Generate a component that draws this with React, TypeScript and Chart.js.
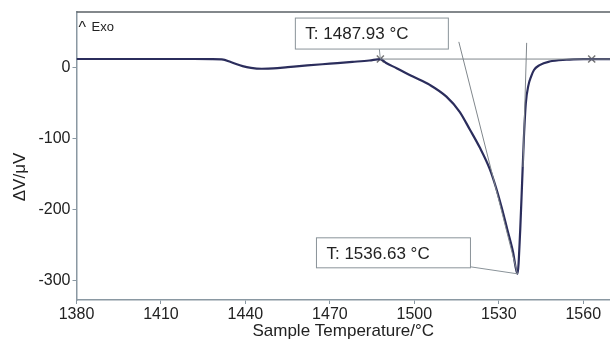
import { useEffect, useRef } from "react";
import { Chart, registerables } from "chart.js";
Chart.register(...registerables);

// DSC curve (sample temperature °C, ΔV µV)
const temps = [1380, 1400, 1420, 1428, 1431.6, 1435, 1439, 1442, 1445.8, 1450, 1455, 1462, 1470, 1478, 1484, 1487.93, 1490, 1493.7, 1499.5, 1505.5, 1511.4, 1516.1, 1519.7, 1523.3, 1526.8, 1529, 1531, 1533, 1535, 1536.63, 1537.6, 1538.3, 1538.9, 1539.6, 1540.5, 1541.5, 1542.5, 1544.5, 1548, 1554, 1560, 1569.5];
const signal = [12.6, 12.6, 12.6, 12.5, 12, 8, 2.5, 0, -1.2, -0.8, 1, 3.5, 6, 8.5, 10.5, 12.5, 7, -0.4, -12.3, -24, -40.6, -62, -87, -113, -143, -169, -197, -228, -259, -291, -230, -160, -100, -50, -25, -12, -3, 4, 9, 11.5, 12.3, 12.5];

const xTicks = [1380, 1410, 1440, 1470, 1500, 1530, 1560];
const yTicks = [0, -100, -200, -300];
const xRange = [1380, 1569.5];
const yRange = [-328, 79];

const markerTemps = [1487.93, 1563];
const markerValues = [12.5, 12.5];
const baselineTemps = [1487.93, 1569.5];
const baselineValues = [12.5, 12.5];
const tangentATemps = [1515.8, 1536.63];
const tangentAValues = [36.8, -291];
const tangentBTemps = [1539.9, 1538.6];
const tangentBValues = [35.4, -140];

const onsetLabel = "T: 1487.93 °C";
const peakLabel = "T: 1536.63 °C";
const onset = { t: 1487.93, v: 12.5 };
const peak = { t: 1536.63, v: -291 };

const FONT = '"Liberation Sans", Arial, Helvetica, sans-serif';
const toPts = (xs: number[], ys: number[]) => xs.map((x, i) => ({ x, y: ys[i] }));

export default function App() {
  const ref = useRef<HTMLCanvasElement>(null);
  useEffect(() => {
    const canvas = ref.current!;
    const annot = {
      id: "annot",
      afterDraw(chart: any) {
        const { ctx, chartArea: a, scales } = chart;
        const xs = scales.x, ys = scales.y;
        ctx.save();
        // top border
        ctx.strokeStyle = "#5a6066";
        ctx.lineWidth = 1.5;
        ctx.beginPath();
        ctx.moveTo(a.left, a.top);
        ctx.lineTo(a.right, a.top);
        ctx.stroke();
        // Exo
        ctx.fillStyle = "#222";
        ctx.textBaseline = "middle";
        ctx.textAlign = "left";
        ctx.font = `16px ${FONT}`;
        ctx.fillText("^", a.left + 2, a.top + 17);
        ctx.font = `13px ${FONT}`;
        ctx.fillText("Exo", a.left + 15, a.top + 15);
        // boxes
        const box = (px: number, py: number, l: number, r: number, t: number, b: number, label: string, cx: number, cy: number) => {
          ctx.fillStyle = "#fff";
          ctx.fillRect(px + l, py + t, r - l, b - t);
          ctx.strokeStyle = "#8a9399";
          ctx.lineWidth = 1;
          ctx.strokeRect(px + l, py + t, r - l, b - t);
          ctx.beginPath();
          ctx.moveTo(cx, cy);
          ctx.lineTo(px, py);
          ctx.stroke();
          ctx.fillStyle = "#222";
          ctx.font = `17px ${FONT}`;
          ctx.textAlign = "left";
          ctx.textBaseline = "middle";
          ctx.fillText(label, px + l + 10, py + (t + b) / 2 + 1);
        };
        const ox = xs.getPixelForValue(onset.t), oy = ys.getPixelForValue(onset.v);
        box(ox, oy, -85, 68, -41, -10, onsetLabel, ox - 1, oy - 10);
        const pxp = xs.getPixelForValue(peak.t), pyp = ys.getPixelForValue(peak.v);
        box(pxp, pyp, -201, -47, -36, -6, peakLabel, pxp - 47, pyp - 7);
        // axis titles
        ctx.fillStyle = "#222";
        ctx.font = `17px ${FONT}`;
        ctx.textAlign = "center";
        ctx.textBaseline = "middle";
        ctx.fillText("Sample Temperature/°C", (a.left + a.right) / 2, 331);
        ctx.translate(20, 177);
        ctx.rotate(-Math.PI / 2);
        ctx.fillText("ΔV/μV", 0, 0);
        ctx.restore();
      },
    };
    const chart = new Chart(canvas, {
      type: "line",
      data: {
        datasets: [
          { data: toPts(baselineTemps, baselineValues), borderColor: "#80878c", borderWidth: 1, pointRadius: 0 },
          { data: toPts(tangentATemps, tangentAValues), borderColor: "#80878c", borderWidth: 1, pointRadius: 0 },
          { data: toPts(tangentBTemps, tangentBValues), borderColor: "#80878c", borderWidth: 1, pointRadius: 0 },
          { data: toPts(temps, signal), borderColor: "#2b2d5c", borderWidth: 2.2, pointRadius: 0, cubicInterpolationMode: "monotone" },
          { data: toPts(markerTemps, markerValues), showLine: false, pointStyle: "crossRot", pointRadius: 5, borderColor: "#777", borderWidth: 1.5 },
        ] as any,
      },
      plugins: [annot],
      options: {
        animation: false,
        responsive: false,
        devicePixelRatio: 1,
        parsing: false as any,
        layout: { autoPadding: false, padding: { top: 12, right: 0, left: 0, bottom: 0 } },
        plugins: { legend: { display: false }, tooltip: { enabled: false } },
        scales: {
          x: {
            type: "linear",
            min: xRange[0],
            max: xRange[1],
            afterBuildTicks: (s: any) => { s.ticks = xTicks.map((v) => ({ value: v })); },
            afterFit: (s: any) => { s.height = 43; s.paddingLeft = 0; s.paddingRight = 0; },
            ticks: { color: "#222", font: { size: 16, family: FONT }, padding: 1, maxRotation: 0, callback: (v: any) => String(v) },
            grid: { drawOnChartArea: false, drawTicks: true, tickLength: 4, color: "#8a98a2" },
            border: { color: "#8a98a2", width: 1.5 },
          },
          y: {
            type: "linear",
            min: yRange[0],
            max: yRange[1],
            afterBuildTicks: (s: any) => { s.ticks = yTicks.map((v) => ({ value: v })); },
            afterFit: (s: any) => { s.width = 76.5; s.paddingTop = 0; s.paddingBottom = 0; },
            ticks: { color: "#222", font: { size: 16, family: FONT }, padding: 2, callback: (v: any) => String(v) },
            grid: { drawOnChartArea: false, drawTicks: true, tickLength: 4, color: "#8a98a2" },
            border: { color: "#8a98a2", width: 1.5 },
          },
        },
      } as any,
    });
    return () => chart.destroy();
  }, []);
  return (
    <div style={{ position: "absolute", left: 0, top: 0, width: 610, height: 343, background: "#fff" }}>
      <canvas ref={ref} width={610} height={343} style={{ display: "block" }} />
    </div>
  );
}
